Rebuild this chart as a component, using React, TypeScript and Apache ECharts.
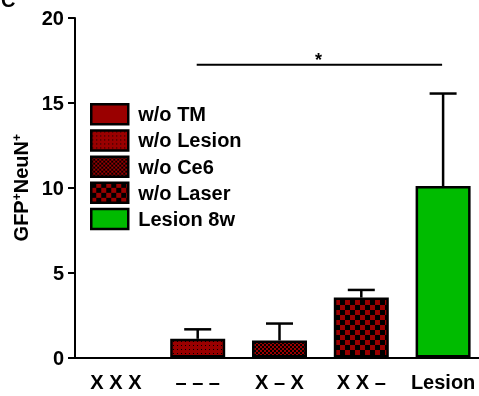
import React, { useEffect, useRef } from 'react';
import * as echarts from 'echarts';

const categories = ['X X X', '– – –', 'X – X', 'X X –', 'Lesion'];
const seriesNames = ['w/o TM', 'w/o Lesion', 'w/o Ce6', 'w/o Laser', 'Lesion 8w'];
const means = [0, 1.1, 1.0, 3.53, 10.1];
const errors = [0, 0.56, 1.0, 0.45, 5.45];
const yTicks = [0, 5, 10, 15, 20];
const sigFrom = 1;
const sigTo = 4;
const sigLevel = 17.25;
const sigLabel = '*';

const RED = '#9a0000';
const GREEN = '#00bb00';
const FONT = '"Liberation Sans", Arial, Helvetica, sans-serif';

function makePattern(kind: string): any {
  if (kind === 'solid') return RED;
  if (kind === 'green') return GREEN;
  const c = document.createElement('canvas');
  const ctx = c.getContext('2d')!;
  if (kind === 'dots') {
    c.width = 4; c.height = 4;
    ctx.fillStyle = RED; ctx.fillRect(0, 0, 4, 4);
    ctx.fillStyle = '#000'; ctx.fillRect(1, 1, 1, 1);
  } else if (kind === 'fine') {
    c.width = 4; c.height = 4;
    ctx.fillStyle = RED; ctx.fillRect(0, 0, 4, 4);
    ctx.fillStyle = '#000'; ctx.fillRect(0, 0, 2, 2); ctx.fillRect(2, 2, 2, 2);
  } else {
    c.width = 10; c.height = 10;
    ctx.fillStyle = RED; ctx.fillRect(0, 0, 10, 10);
    ctx.fillStyle = '#000'; ctx.fillRect(0, 0, 5, 5); ctx.fillRect(5, 5, 5, 5);
  }
  return { image: c, repeat: 'repeat' };
}

const fillKinds = ['solid', 'dots', 'fine', 'coarse', 'green'];

export default function App() {
  const ref = useRef<HTMLDivElement>(null);
  useEffect(() => {
    if (!ref.current) return;
    const chart = echarts.init(ref.current, undefined, { renderer: 'svg' });
    const fills = fillKinds.map(makePattern);
    const barSeries = seriesNames.map((name, i) => ({
      type: 'bar',
      name,
      stack: 'all',
      barWidth: 55,
      data: categories.map((_, j) =>
        j === i
          ? { value: means[i], itemStyle: { borderWidth: means[i] > 0 ? 2.5 : 0 } }
          : '-'
      ),
      itemStyle: { color: fills[i], borderColor: '#000', borderWidth: 2.5 },
      z: 2,
    }));
    chart.setOption({
      animation: false,
      textStyle: { fontFamily: FONT },
      grid: { left: 75, width: 409, top: 18, bottom: 38.5, containLabel: false },
      graphic: [
        { type: 'text', left: 1, top: -10, style: { text: 'C', font: `bold 20px ${FONT}`, fill: '#000' } },
      ],
      legend: {
        orient: 'vertical',
        left: 90,
        top: 103,
        padding: 0,
        itemWidth: 37,
        itemHeight: 20,
        itemGap: 3.7,
        selectedMode: false,
        icon: 'rect',
        data: seriesNames,
        itemStyle: { borderColor: '#000', borderWidth: 2.5 },
        textStyle: { fontSize: 20, lineHeight: 20, fontWeight: 'bold', color: '#000', fontFamily: FONT, padding: [0, 0, 0, 5] },
      },
      xAxis: {
        type: 'category',
        data: categories,
        axisLine: { lineStyle: { color: '#000', width: 2 } },
        axisTick: { alignWithLabel: true, length: 7, lineStyle: { color: '#000', width: 2 } },
        axisLabel: { interval: 0, fontSize: 20, fontWeight: 'bold', color: '#000', margin: 14, fontFamily: FONT },
      },
      yAxis: {
        type: 'value',
        min: yTicks[0],
        max: yTicks[yTicks.length - 1],
        interval: yTicks[1] - yTicks[0],
        splitLine: { show: false },
        axisLine: { show: true, lineStyle: { color: '#000', width: 2 } },
        axisTick: { show: true, length: 7, lineStyle: { color: '#000', width: 2 } },
        axisLabel: { fontSize: 20, fontWeight: 'bold', color: '#000', margin: 11, fontFamily: FONT },
        name: 'GFP{s|+}NeuN{s|+}',
        nameLocation: 'middle',
        nameGap: 41,
        nameTextStyle: {
          fontSize: 20, fontWeight: 'bold', color: '#000', fontFamily: FONT,
          rich: { s: { fontSize: 12, fontWeight: 'bold', color: '#000', verticalAlign: 'top', fontFamily: FONT } },
        },
      },
      series: [
        ...barSeries,
        {
          type: 'custom',
          name: 'err',
          z: 3,
          encode: { x: 0, y: 2 },
          data: means.map((m, i) => [i, m, m + errors[i]]),
          renderItem: (params: any, api: any) => {
            const lo = api.value(1);
            const hi = api.value(2);
            if (hi <= lo) return null;
            const p0 = api.coord([api.value(0), lo]);
            const p1 = api.coord([api.value(0), hi]);
            const half = 13.5;
            const st = { stroke: '#000', lineWidth: 2.5 };
            return {
              type: 'group',
              children: [
                { type: 'line', shape: { x1: p0[0], y1: p0[1], x2: p1[0], y2: p1[1] }, style: st },
                { type: 'line', shape: { x1: p1[0] - half, y1: p1[1], x2: p1[0] + half, y2: p1[1] }, style: st },
              ],
            };
          },
        },
        {
          type: 'custom',
          name: 'sig',
          z: 3,
          encode: { x: [0, 1], y: 2 },
          data: [[sigFrom, sigTo, sigLevel]],
          renderItem: (params: any, api: any) => {
            const a = api.coord([api.value(0), api.value(2)]);
            const b = api.coord([api.value(1), api.value(2)]);
            return {
              type: 'group',
              children: [
                { type: 'line', shape: { x1: a[0] - 1, y1: a[1], x2: b[0] - 1, y2: b[1] }, style: { stroke: '#000', lineWidth: 2 } },
                {
                  type: 'text',
                  x: (a[0] + b[0]) / 2 - 2,
                  y: a[1] - 5,
                  style: { text: sigLabel, font: `bold 18px ${FONT}`, fill: '#000', align: 'center', verticalAlign: 'middle' },
                },
              ],
            };
          },
        },
      ],
    });
    return () => chart.dispose();
  }, []);
  return <div ref={ref} style={{ position: 'fixed', left: 0, top: 0, width: 490, height: 396 }} />;
}
